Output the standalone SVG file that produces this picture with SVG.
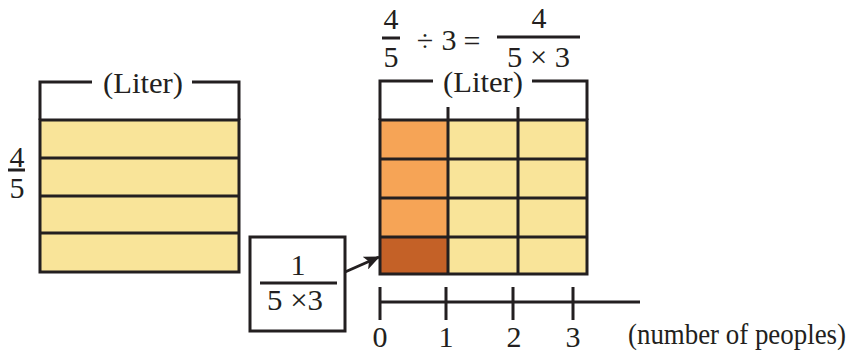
<svg xmlns="http://www.w3.org/2000/svg" width="860" height="357" viewBox="0 0 860 357">
<style>
text{font-family:"Liberation Serif","Times New Roman",serif;fill:#231F20;font-size:30px}
.ln{stroke:#231F20;stroke-width:3;fill:none}
.y{fill:#F9E499}
.o{fill:#F6A456}
.d{fill:#C46127}
.c{text-anchor:middle}
</style>
<defs>
<marker id="ah" markerWidth="16" markerHeight="14" refX="15" refY="7" orient="auto" markerUnits="userSpaceOnUse" viewBox="0 0 16 14">
<path d="M0,0 L16,7 L0,14 L4,7 z" fill="#231F20"/>
</marker>
</defs>
<rect width="860" height="357" fill="#fff"/>

<g id="left-bar">
<path class="ln" d="M40,120 V82 H92 M192,82 H239 V120"/>
<text x="103" y="93" textLength="80" lengthAdjust="spacingAndGlyphs">(Liter)</text>
<rect class="y" x="40" y="120" width="199" height="152"/>
<path class="ln" d="M40,158 H239 M40,196 H239 M40,233 H239"/>
<rect class="ln" x="40" y="120" width="199" height="152"/>
</g>

<g id="left-fraction">
<text class="c" x="17" y="167">4</text>
<line class="ln" x1="8" y1="170" x2="25" y2="170" stroke-width="1.5"/>
<text class="c" x="17" y="198">5</text>
</g>

<g id="equation">
<text class="c" x="391" y="29">4</text>
<line class="ln" x1="382" y1="38" x2="400" y2="38" stroke-width="1.5"/>
<text class="c" x="391" y="67">5</text>
<text class="c" x="425" y="51">÷</text>
<text class="c" x="449" y="50">3</text>
<text class="c" x="472" y="51">=</text>
<text class="c" x="539" y="28">4</text>
<line class="ln" x1="497" y1="37" x2="580" y2="37" stroke-width="1.5"/>
<text x="507" y="67" textLength="63" lengthAdjust="spacingAndGlyphs">5 × 3</text>
</g>

<g id="right-bar">
<path class="ln" d="M380,120 V81 H433 M532,81 H587 V120 M448,107 V120 M518,107 V120"/>
<text x="443" y="92" textLength="80" lengthAdjust="spacingAndGlyphs">(Liter)</text>
<rect class="y" x="380" y="120" width="207" height="154"/>
<rect class="o" x="380" y="120" width="68" height="117"/>
<rect class="d" x="380" y="237" width="68" height="37"/>
<path class="ln" d="M380,159 H587 M380,198 H587 M380,237 H587 M448,120 V274 M518,120 V274"/>
<rect class="ln" x="380" y="120" width="207" height="154"/>
</g>

<g id="unit-box">
<rect class="ln" x="250" y="237" width="95" height="94"/>
<text class="c" x="298" y="275" font-size="25">1</text>
<line class="ln" x1="260" y1="283" x2="337" y2="283" stroke-width="1.5"/>
<text x="267" y="310" font-size="27" textLength="56" lengthAdjust="spacingAndGlyphs">5 ×3</text>
</g>

<g id="connectors">
<line class="ln" x1="345" y1="272" x2="379" y2="257" marker-end="url(#ah)"/>
</g>

<g id="number-line">
<path class="ln" d="M380,302 H640 M380,287 V320 M446,287 V320 M513,287 V320 M573,287 V320"/>
<text class="c" x="380" y="347">0</text>
<text class="c" x="446" y="347">1</text>
<text class="c" x="514" y="347">2</text>
<text class="c" x="573" y="347">3</text>
<text x="628" y="344" font-size="25" textLength="218" lengthAdjust="spacingAndGlyphs">(number of peoples)</text>
</g>
</svg>
